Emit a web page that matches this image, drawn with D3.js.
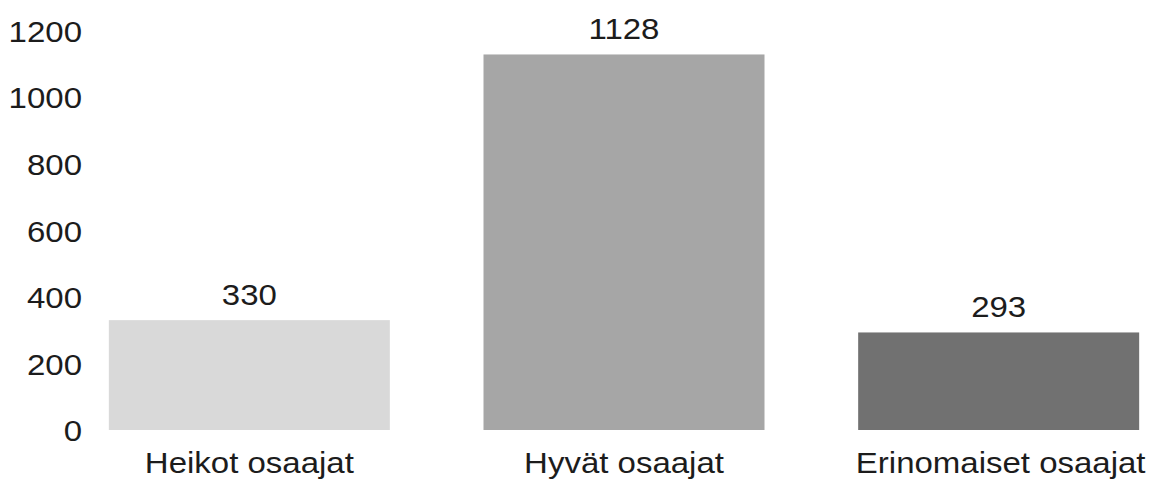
<!DOCTYPE html>
<html>
<head>
<meta charset="utf-8">
<script src="https://cdn.jsdelivr.net/npm/d3@7"></script>
<style>
  html, body { margin: 0; padding: 0; background: #ffffff; }
  svg { display: block; }
  text { font-family: "Liberation Sans", Arial, sans-serif; fill: #1c1c1c; }
</style>
</head>
<body>
<svg id="chart" width="1156" height="482"></svg>
<script>
const categories = ["Heikot osaajat", "Hyvät osaajat", "Erinomaiset osaajat"];
const values = [330, 1128, 293];
const barColors = ["#d9d9d9", "#a6a6a6", "#717171"];
const yTicks = [0, 200, 400, 600, 800, 1000, 1200];

const svg = d3.select("#chart");
const fontSize = 30, stretch = 1.1;

const x = d3.scaleBand().domain(categories).range([62, 1186]).paddingInner(0.25).paddingOuter(0.125);
const y = d3.scaleLinear().domain([0, 1200]).range([430, 30.5]);

// bars
svg.append("g").selectAll("rect")
  .data(categories)
  .join("rect")
  .attr("x", d => x(d))
  .attr("width", x.bandwidth())
  .attr("y", (d, i) => y(values[i]))
  .attr("height", (d, i) => y(0) - y(values[i]))
  .attr("fill", (d, i) => barColors[i]);

// y axis (labels only)
const yAxis = d3.axisLeft(y).tickValues(yTicks).tickSize(0).tickPadding(0).tickFormat(d3.format("d"));
const gy = svg.append("g").attr("transform", "translate(82,0)").call(yAxis);
gy.select(".domain").remove();
gy.selectAll(".tick text")
  .attr("font-size", fontSize)
  .attr("font-family", "Liberation Sans, Arial, sans-serif")
  .attr("fill", "#1c1c1c")
  .attr("text-anchor", "end")
  .attr("x", 0)
  .attr("dy", "0.36em")
  .attr("transform", `scale(${stretch},1)`);

// x axis (labels only)
const xAxis = d3.axisBottom(x).tickSize(0).tickPadding(0);
const gx = svg.append("g").attr("transform", "translate(0,473)").call(xAxis);
gx.select(".domain").remove();
gx.selectAll(".tick text")
  .attr("font-size", fontSize)
  .attr("font-family", "Liberation Sans, Arial, sans-serif")
  .attr("fill", "#1c1c1c")
  .attr("y", 0)
  .attr("dy", 0)
  .attr("transform", `scale(${stretch},1)`);
gx.selectAll(".tick").filter((d, i) => i === 2)
  .attr("transform", `translate(${x(categories[2]) + x.bandwidth() / 2 + 2},0)`);

// value labels
svg.append("g").selectAll("text")
  .data(categories)
  .join("text")
  .attr("transform", (d, i) => `translate(${x(d) + x.bandwidth() / 2},${y(values[i]) - 15}) scale(${stretch},1)`)
  .attr("text-anchor", "middle")
  .attr("font-size", fontSize)
  .text((d, i) => values[i]);
</script>
</body>
</html>
